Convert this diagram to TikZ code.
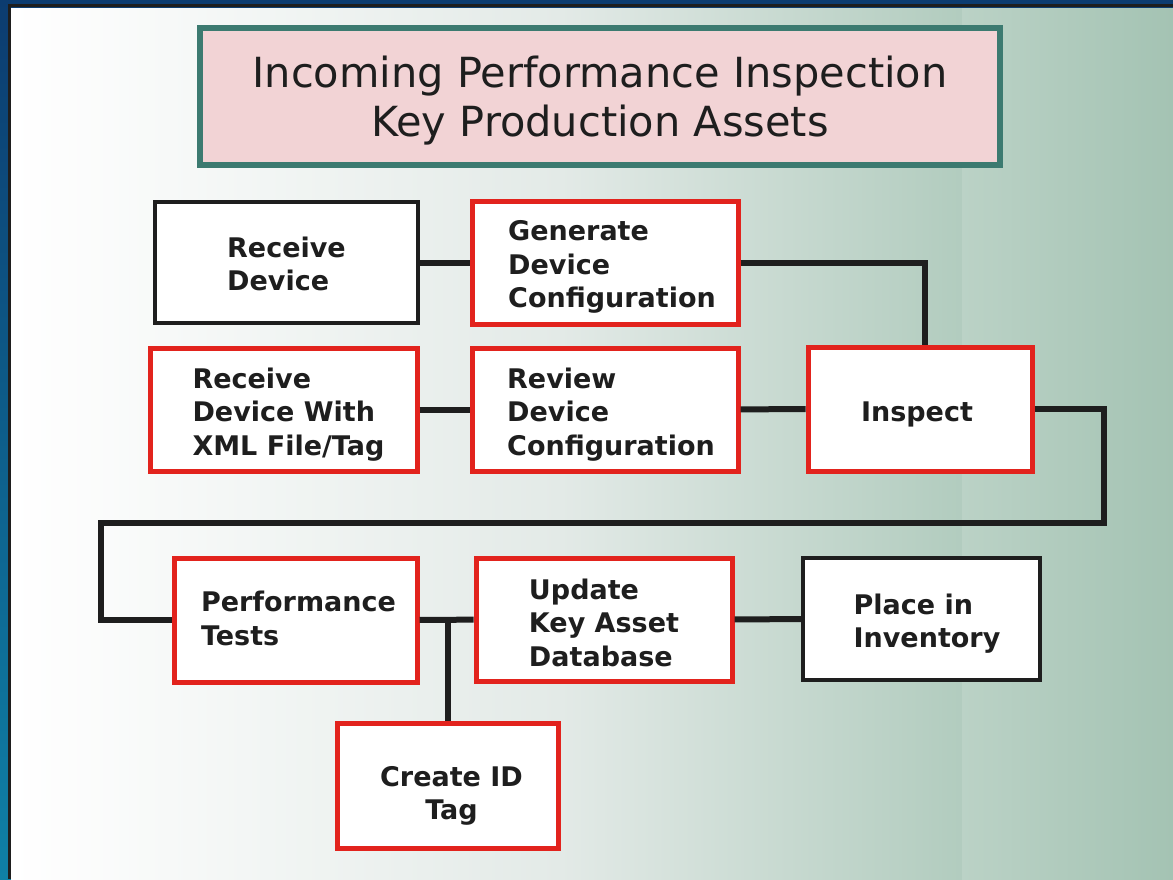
\documentclass[tikz,border=0pt]{standalone}
\usepackage{fontspec}
\setmainfont{DejaVu Sans}
\definecolor{boxred}{HTML}{E2231D}
\definecolor{titleteal}{HTML}{3C7A70}
\definecolor{titlepink}{HTML}{F2D3D5}
\definecolor{ink}{HTML}{1E1E1E}
\definecolor{panelmid}{HTML}{E3EAE7}
\definecolor{panelgreen}{HTML}{A4C3B3}
\definecolor{framedark}{HTML}{0C3C70}
\definecolor{framelight}{HTML}{0F80A6}
\newcommand{\boxtext}[4][l]{\raisebox{-#3}[\height][\depth]{\hspace*{#2}%
	\begin{tabular}{@{}#1@{}}#4\end{tabular}\hspace*{-#2}}}
\tikzset{%
    every node/.style={inner sep=0pt, text=ink,
    	font=\bfseries\fontsize{27}{33.5}\selectfont},
    redbox/.style={draw=boxred, fill=white, line width=5pt},
    blackbox/.style={draw=ink, fill=white, line width=3.5pt},
    titlebox/.style={draw=titleteal, fill=titlepink, line width=6pt,
    	align=center, font=\fontsize{41.5}{49}\selectfont},
    link/.style={draw=ink, line width=6pt}
}
\begin{document}
\begin{tikzpicture}[x=1pt, y=-1pt]
	\useasboundingbox (0,0) rectangle (1173,879);
	\shade[top color=framedark, bottom color=framelight] (0,0) rectangle (1173,879);
	\shade[left color=white, right color=panelmid] (11,8) rectangle (560,879);
	\shade[left color=panelmid, right color=panelgreen!85!white] (560,8) rectangle (962,879);
	\shade[left color=panelgreen!75!white, right color=panelgreen] (962,8) rectangle (1173,879);
	\draw[ink, line width=3pt] (9.5,879) -- (9.5,5.5) -- (1173,5.5);

	\node [titlebox, minimum width=800pt, minimum height=137pt] (title) at (600,96.5)
		{\boxtext[c]{0pt}{6pt}{Incoming Performance Inspection\\Key Production Assets}};
	\node [blackbox, minimum width=263pt, minimum height=121pt] (recv) at (286.5,262.5)
		{\boxtext{0pt}{5pt}{Receive\\Device}};
	\node [redbox, minimum width=266pt, minimum height=123pt] (gen) at (605,262.5)
		{\boxtext{7pt}{5pt}{Generate\\Device\\Configuration}};
	\node [redbox, minimum width=267pt, minimum height=123pt] (xml) at (283.5,409.5)
		{\boxtext{5pt}{5.5pt}{Receive\\Device With\\XML File/Tag}};
	\node [redbox, minimum width=266pt, minimum height=123pt] (review) at (605,409.5)
		{\boxtext{6pt}{5.5pt}{Review\\Device\\Configuration}};
	\node [redbox, minimum width=224pt, minimum height=124pt] (inspect) at (920,409)
		{\boxtext{-3pt}{6pt}{Inspect}};
	\node [redbox, minimum width=243pt, minimum height=124pt] (perf) at (295.5,620)
		{\boxtext{3pt}{2pt}{Performance\\Tests}};
	\node [redbox, minimum width=256pt, minimum height=123pt] (update) at (604,619.5)
		{\boxtext{0pt}{6.5pt}{Update\\Key Asset\\Database}};
	\node [blackbox, minimum width=237pt, minimum height=122pt] (place) at (921.5,619)
		{\boxtext{5.5pt}{5.5pt}{Place in\\Inventory}};
	\node [redbox, minimum width=221pt, minimum height=125pt] (idtag) at (447.5,785.5)
		{\boxtext[c]{4pt}{11pt}{Create ID\\Tag}};

	\coordinate (turnA) at (1104,523);
	\coordinate (turnB) at (101,523);
	\coordinate (tee) at (447.5,620);
	\draw [link] (recv) -- (gen);
	\draw [link] (gen.east) -| ([xshift=5pt]inspect.north);
	\draw [link] (xml) -- (review);
	\draw [link] (review) -- (inspect);
	\draw [link] (inspect.east) -| (turnA) -- (turnB) |- (perf.west);
	\draw [link] (perf) -- (update);
	\draw [link] (tee) -- (idtag.north);
	\draw [link] (update) -- (place);
\end{tikzpicture}
\end{document}
